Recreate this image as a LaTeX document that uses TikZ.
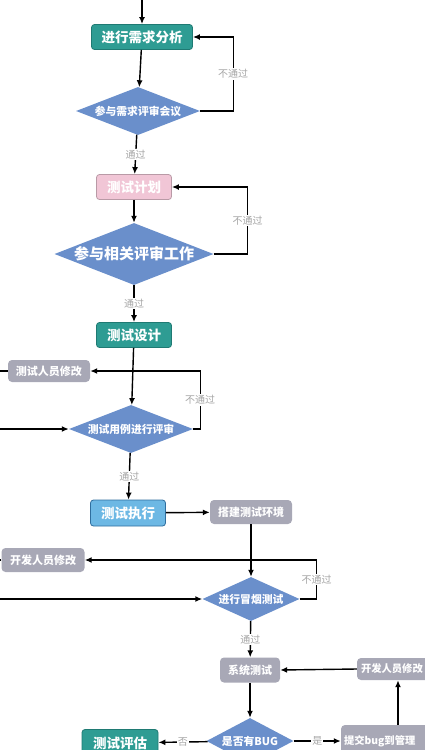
\documentclass[tikz,border=0pt]{standalone}
\usepackage{fontspec}
\newfontfamily\cjk{Noto Sans CJK SC}
\usetikzlibrary{shapes.geometric, arrows.meta}
\definecolor{tealbox}{HTML}{2E9C93}
\definecolor{tealline}{HTML}{1F7A73}
\definecolor{pinkbox}{HTML}{F1C6D6}
\definecolor{pinkline}{HTML}{B99AA6}
\definecolor{bluediam}{HTML}{6A8FCB}
\definecolor{greybox}{HTML}{A8A8B6}
\definecolor{skybox}{HTML}{6DB8E4}
\definecolor{skyline}{HTML}{2F6E9E}
\definecolor{lblgrey}{HTML}{A6A6A6}
\tikzset{
	x=1pt, y=-1pt, % one unit is one pixel of the sketch, y runs downwards
	every node/.style={font=\cjk, text=white},
	phase/.style={rounded corners=3pt, fill=tealbox, draw=tealline, line width=0.8pt, inner sep=0pt, minimum height=25pt, font=\cjk\bfseries\fontsize{13.5}{14}\selectfont}, % main steps
	task/.style={rounded corners=4pt, fill=greybox, inner sep=0pt, minimum height=23pt, font=\cjk\bfseries\fontsize{11}{12}\selectfont}, % side jobs
	edgetask/.style={task, inner xsep=3pt, align=left, font=\cjk\bfseries\fontsize{10.3}{12}\selectfont}, % boxes running off the right edge
	check/.style={diamond, aspect=2.6, fill=bluediam, inner sep=0pt, font=\cjk\bfseries\fontsize{10.8}{12}\selectfont}, % reviews
	flow/.style={line width=1.4pt, -{Latex[length=7pt,width=6pt]}},
	lbl/.style={fill=white, text=lblgrey, inner sep=1pt, font=\cjk\fontsize{10}{11}\selectfont}, % pass / fail text
}
\begin{document}
\begin{tikzpicture}
	\useasboundingbox (0,0) rectangle (425,750);
	\clip (0,0) rectangle (425,750);
	\coordinate (top) at (142,0);
	\coordinate (west) at (0,0);
	\node[phase, minimum width=101pt] (req) at (142,37) {进行需求分析};
	\node[check, minimum width=124pt, minimum height=48pt] (revreq) at (138,111) {参与需求评审会议};
	\node[phase, fill=pinkbox, draw=pinkline, minimum width=75pt] (plan) at (134,187) {测试计划};
	\node[check, minimum width=159pt, minimum height=62pt, font=\cjk\bfseries\fontsize{15}{16}\selectfont] (revplan) at (134,254) {参与相关评审工作};
	\node[phase, minimum width=75pt] (design) at (134,335) {测试设计};
	\node[task, minimum width=82pt, minimum height=22pt] (fixcase) at (49,371) {测试人员修改};
	\node[check, minimum width=124pt, minimum height=48pt] (revcase) at (131,429) {测试用例进行评审};
	\node[phase, fill=skybox, draw=skyline, minimum width=75pt, minimum height=26pt] (exec) at (128,513) {测试执行};
	\node[task, minimum width=82pt, minimum height=24pt] (env) at (251,512) {搭建测试环境};
	\node[task, minimum width=83pt, minimum height=24pt] (fixsmoke) at (43,560) {开发人员修改};
	\node[check, minimum width=97pt, minimum height=44pt] (smoke) at (251,599) {进行冒烟测试};
	\node[task, minimum width=60pt, minimum height=25pt] (systest) at (250,670) {系统测试};
	\node[edgetask, text width=84pt, minimum height=22pt, inner xsep=4pt] (fixbug) at (403,669) {开发人员修改};
	\node[check, minimum width=87pt, minimum height=46pt] (hasbug) at (250,741) {是否有BUG};
	\node[phase, minimum width=76pt, minimum height=27pt] (assess) at (120,743) {测试评估};
	\node[edgetask, text width=104pt, minimum height=32pt] (report) at (396,741) {提交bug到管理};

	\draw[flow] (top) -- (req);
	\draw[flow] (req) -- (revreq);
	\draw[flow] (revreq.east) -- ++(33,0) |- node[lbl, pos=0.25] {不通过} (req.east);
	\draw[flow] (revreq) -- node[lbl] {通过} (plan);
	\draw[flow] (plan) -- (revplan);
	\draw[flow] (revplan.east) -- ++(34,0) |- node[lbl, pos=0.25] {不通过} (plan.east);
	\draw[flow] (revplan) -- node[lbl] {通过} (design);
	\draw[flow] (design) -- (revcase);
	\draw[flow] (revcase.east) -- ++(7,0) |- node[lbl, pos=0.25] {不通过} (fixcase.east);
	\draw[line width=1.4pt] (fixcase.west) -- (fixcase.west -| west);
	\draw[flow] (revcase.west -| west) -- (revcase.west);
	\draw[flow] (revcase) -- node[lbl] {通过} (exec);
	\draw[flow] (exec) -- (env);
	\draw[flow] (env) -- (smoke);
	\draw[flow] (smoke.east) -- ++(17,0) |- node[lbl, pos=0.25] {不通过} (fixsmoke.east);
	\draw[line width=1.4pt] (fixsmoke.west) -- (fixsmoke.west -| west);
	\draw[flow] (smoke.west -| west) -- (smoke.west);
	\draw[flow] (smoke) -- node[lbl] {通过} (systest);
	\draw[flow] (fixbug.west) -- (systest.east);
	\draw[flow] (systest) -- (hasbug);
	\draw[flow] (hasbug) -- node[lbl] {否} (assess);
	\draw[flow] (hasbug) -- node[lbl] {是} (report);
	\draw[flow] ([xshift=2pt]report.north) -- ([xshift=2pt]report.north |- fixbug.south);
\end{tikzpicture}
\end{document}
